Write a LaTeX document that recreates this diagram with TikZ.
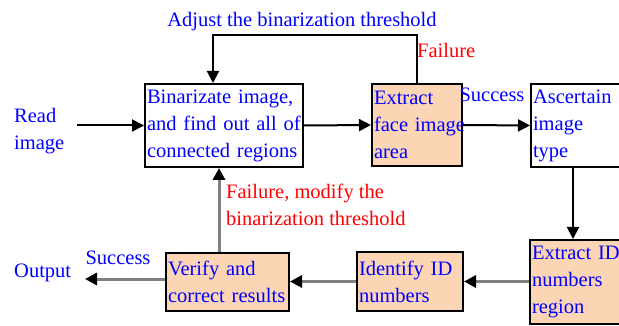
\documentclass[tikz,border=0pt]{standalone}
\usepackage{fontspec}
\setmainfont{Liberation Serif}
\usetikzlibrary{arrows.meta}
\definecolor{peach}{RGB}{252,213,180}
\definecolor{lgray}{RGB}{128,128,128}
\begin{document}
\begin{tikzpicture}[x=1pt,y=-1pt,
  font=\fontsize{20.5}{27}\selectfont,
  box/.style={draw=black, line width=2pt, align=left, inner xsep=2pt, inner ysep=0pt, text=blue, anchor=center},
  peachbox/.style={box, fill=peach},
  conn/.style={line width=2pt, -{Triangle[length=12pt,width=12pt]}},
  grayconn/.style={draw=lgray, line width=3pt, -{Triangle[length=12pt,width=12pt,color=black]}},
  lbl/.style={text=blue, inner sep=0pt},
  fail/.style={text=red, inner sep=0pt}]
\useasboundingbox (0,0) rectangle (619,326);
\clip (0,0) rectangle (619,326);
% boxes
\node[box, minimum width=158pt, minimum height=83pt, text width=154pt] (b1) at (224,125.5)
  {\mbox{Binarizate image,}\\\mbox{and find out all of}\\\mbox{connected regions}};
\node[peachbox, minimum width=90pt, minimum height=82pt, text width=86pt] (b2) at (417,125)
  {\mbox{Extract}\\\mbox{face image}\\\mbox{area}};
\node[box, minimum width=99pt, minimum height=83pt, text width=95pt] (b3) at (580.5,125.5)
  {\mbox{Ascertain}\\\mbox{image}\\\mbox{type}};
\node[peachbox, minimum width=100pt, minimum height=84pt, text width=96pt] (b4) at (580,282)
  {\mbox{Extract ID}\\\mbox{numbers}\\\mbox{region}};
\node[peachbox, minimum width=106pt, minimum height=59pt, text width=102pt] (b5) at (410,281.5)
  {\mbox{Identify ID}\\\mbox{numbers}};
\node[peachbox, minimum width=123pt, minimum height=58pt, text width=119pt] (b6) at (227.5,281.5)
  {\mbox{Verify and}\\\mbox{correct results}};
% labels
\node[lbl, anchor=west, align=left] (read) at (14,131) {Read\\image};
\node[lbl, anchor=west] (out) at (14,273) {Output};
\node[lbl] (adj) at (302,22) {Adjust the binarization threshold};
\node[fail, anchor=west] (f1) at (417,50) {Failure};
\node[lbl] (s1) at (492,95) {Success};
\node[lbl] (s2) at (118,258) {Success};
\node[fail, anchor=west, align=left] (f2) at (226,205) {Failure, modify the\\binarization threshold};
% connectors
\coordinate (rin) at (77,125.5);
\draw[conn] (rin) -- (b1.west);
\draw[conn] (b1.east) -- (b2.west);
\draw[conn] (b2.east) -- (b3.west);
\coordinate (loopx) at (213,35);
\draw[conn] (b2.north) |- (loopx) -- (loopx |- b1.north);
\coordinate (c34) at (573,0);
\draw[conn] (c34 |- b3.south) -- (c34 |- b4.north);
\draw[grayconn] (b4.west |- b5.east) -- (b5.east);
\draw[grayconn] (b5.west) -- (b6.east);
\coordinate (oend) at (85,279);
\draw[grayconn] (b6.west |- oend) -- (oend);
\coordinate (c61) at (219,0);
\draw[grayconn] (c61 |- b6.north) -- (c61 |- b1.south);
\end{tikzpicture}
\end{document}
